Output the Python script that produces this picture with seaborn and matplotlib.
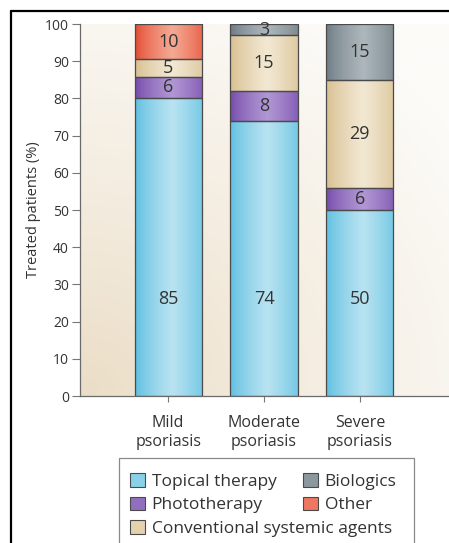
import numpy as np
import matplotlib
matplotlib.use('Agg')
import matplotlib.pyplot as plt
import seaborn as sns
from matplotlib.colors import to_rgb
from matplotlib.patches import Patch, Rectangle
from matplotlib.lines import Line2D

# data (percent of treated patients, labels as printed)
categories = ['Mild\npsoriasis', 'Moderate\npsoriasis', 'Severe\npsoriasis']
topical = [85, 74, 50]
photo = [6, 8, 6]
conventional = [5, 15, 29]
biologics = [0, 3, 15]
other = [10, 0, 0]

series_names = ['Topical therapy', 'Phototherapy', 'Conventional systemic agents',
                'Biologics', 'Other']
series_values = [topical, photo, conventional, biologics, other]
# (edge shade, highlight shade) for the cylinder look
series_colors = [('#58bde0', '#b9e3f1'),
                 ('#7246a8', '#b197d4'),
                 ('#d6bc8b', '#f2e8d3'),
                 ('#6b7881', '#adb7bc'),
                 ('#e4452d', '#f5a992')]

sns.set_style('white')
plt.rcParams['font.family'] = ['Open Sans', 'DejaVu Sans']
txt = '#333333'

fig = plt.figure(figsize=(4.49, 5.43), dpi=100)
W, H = 449, 543
rect = [80 / W, (H - 396) / H, (W - 80) / W, 372 / H]

# soft beige background behind the plot area
bg = fig.add_axes(rect, zorder=0)
gx, gy = np.meshgrid(np.linspace(0, 1, 300), np.linspace(0, 1, 300))
d = np.clip(np.sqrt((gx * 1.0) ** 2 + (gy * 1.05) ** 2) / 1.25, 0, 1) ** 0.9
c0, c1 = np.array(to_rgb('#ebddc6')), np.array(to_rgb('#fcfbf8'))
bg.imshow(c0 + (c1 - c0) * d[..., None], origin='lower', extent=[0, 1, 0, 1], aspect='auto')
bg.set_axis_off()

ax = fig.add_axes(rect, zorder=1)
ax.set_facecolor('none')

totals = np.sum(series_values, axis=0)
bottom = np.zeros(len(categories))
xs = np.linspace(0, 1, 200)
profile = np.clip(1 - np.abs(xs - 0.55) / 0.55, 0, 1) ** 0.7

for name, vals, (ce, cc) in zip(series_names, series_values, series_colors):
    heights = np.array(vals) / totals * 100
    sns.barplot(x=categories, y=heights, bottom=bottom, color=ce, saturation=1,
                width=0.7, edgecolor='#4a4a4a', linewidth=0.9, ax=ax)
    cont = ax.containers[-1]
    e, c = np.array(to_rgb(ce)), np.array(to_rgb(cc))
    grad = (e + (c - e) * profile[:, None])[None, :, :]
    for p in cont.patches:
        p.set_facecolor('none')
        p.set_zorder(3)
        if p.get_height() <= 0:
            p.set_visible(False)
            continue
        x0, y0 = p.get_x(), p.get_y()
        im = ax.imshow(grad, extent=[x0, x0 + p.get_width(), y0, y0 + p.get_height()],
                       aspect='auto', zorder=2)
        im.set_clip_path(p)
    if name == 'Topical therapy':
        for i, v in enumerate(vals):
            ax.text(i, 26, str(v), ha='center', va='center', fontsize=13, color=txt, zorder=4)
    else:
        labels = [str(v) if v > 0 else '' for v in vals]
        ax.bar_label(cont, labels=labels, label_type='center', fontsize=13, color=txt, zorder=4)
    bottom = bottom + heights

ax.set_xlim(-0.92, 2.93)
ax.set_ylim(0, 100)
ax.set_yticks(range(0, 101, 10))
ax.set_ylabel('Treated patients (%)', fontsize=10.5, color=txt)
ax.yaxis.set_label_coords(-0.105, 0.5)
sns.despine(ax=ax, top=True, right=True)
for s in ['left', 'bottom']:
    ax.spines[s].set_color('#6a6a6a')
    ax.spines[s].set_linewidth(0.9)
ax.tick_params(axis='y', length=6, width=0.8, color='#777777', labelsize=10,
               labelcolor=txt, pad=2, left=True)
ax.tick_params(axis='x', length=4, width=0.8, color='#777777', labelsize=11.5,
               labelcolor=txt, pad=10, bottom=True)
for t in ax.get_xticklabels():
    t.set_linespacing(1.2)

# legend in a box running off the bottom edge
handles = [Patch(facecolor=(np.array(to_rgb(ce)) + np.array(to_rgb(cc))) / 2,
                 edgecolor='#4a4a4a', linewidth=0.8)
           for ce, cc in series_colors]
leg_kw = dict(frameon=False, fontsize=12.5, handlelength=0.85, handleheight=0.85,
              handletextpad=0.4, labelspacing=0.38, borderpad=0, borderaxespad=0,
              loc='upper left', labelcolor=txt)
l1 = fig.legend(handles[:2], series_names[:2], bbox_to_anchor=(130 / W, 1 - 473 / H), **leg_kw)
l2 = fig.legend(handles[3:], series_names[3:], bbox_to_anchor=(303 / W, 1 - 473 / H), **leg_kw)
l3 = fig.legend(handles[2:3], series_names[2:3], bbox_to_anchor=(130 / W, 1 - 520 / H), **leg_kw)
fig.add_artist(Rectangle((119 / W, -0.05), 295 / W, 0.05 + (H - 458) / H, transform=fig.transFigure,
                         fill=False, edgecolor='#8a8a8a', linewidth=0.9, clip_on=False))

# page frame
fig.add_artist(Line2D([11 / W, 11 / W], [0, 1 - 11 / H], color='black', linewidth=1.6))
fig.add_artist(Line2D([11 / W, 1], [1 - 11 / H, 1 - 11 / H], color='black', linewidth=1.6))

fig.savefig('out.png', dpi=100)
